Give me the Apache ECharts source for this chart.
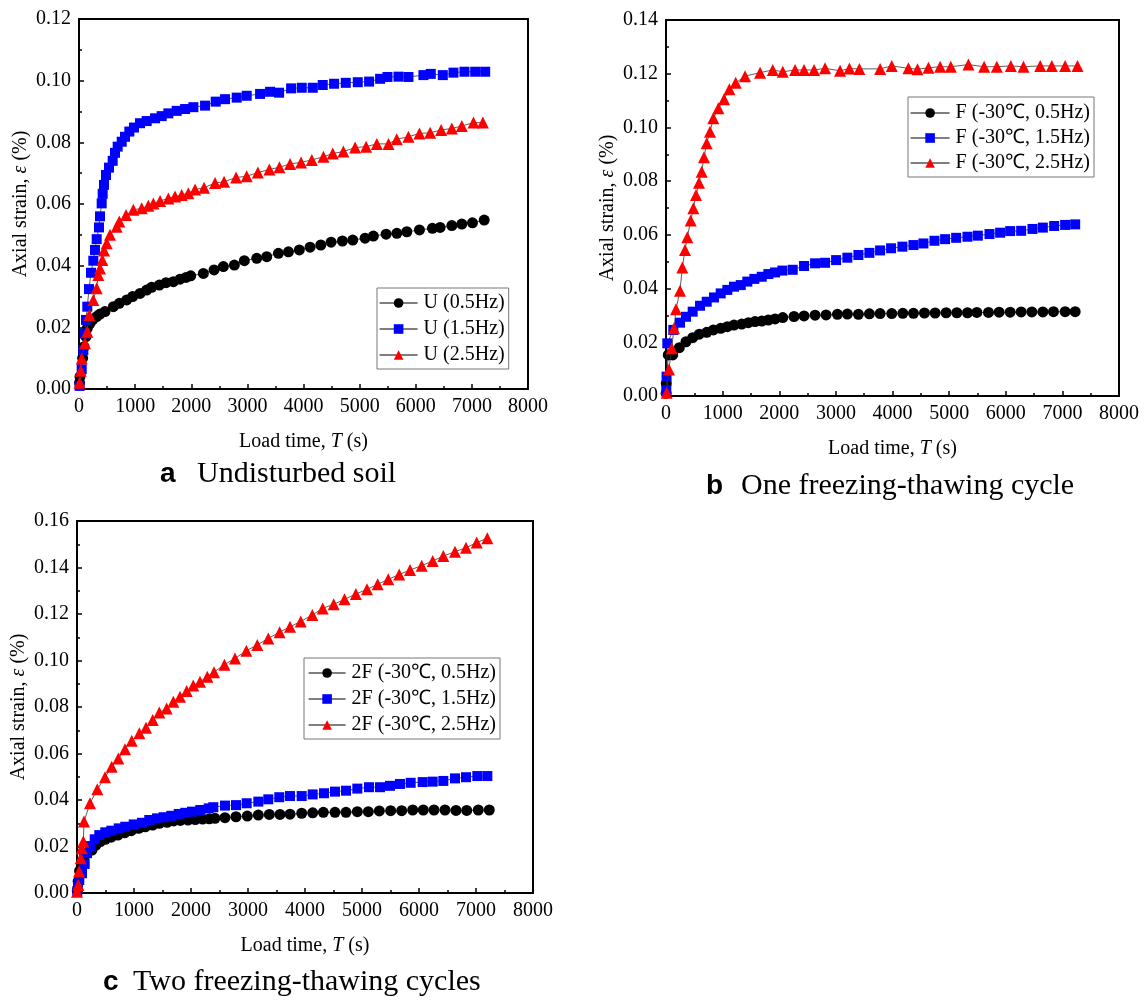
<!DOCTYPE html>
<html>
<head>
<meta charset="utf-8">
<script src="https://cdn.jsdelivr.net/npm/echarts@6/dist/echarts.min.js"></script>
<style>
  html, body { margin: 0; padding: 0; background: #fff; }
  #chart { width: 1147px; height: 1000px; }
</style>
</head>
<body>
<div id="chart"></div>
<script>
// Axial strain (%) versus load time (s), pairs of [time, strain]

// (a) Undisturbed soil
const uHz05 = [[10,0.002],[18,0.004],[65,0.010],[89,0.0137],[125,0.017],[148,0.0197],[196,0.0213],[243,0.0224],[315,0.0235],[374,0.0243],[463,0.0251],[612,0.0267],[718,0.0278],[850,0.0289],[956,0.030],[1087,0.031],[1206,0.0321],[1295,0.033],[1432,0.0337],[1551,0.0345],[1681,0.0348],[1800,0.0356],[1907,0.0362],[1990,0.0367],[2216,0.0375],[2406,0.0386],[2572,0.0397],[2768,0.0402],[2946,0.0416],[3167,0.0424],[3345,0.0429],[3553,0.044],[3732,0.0445],[3926,0.0451],[4117,0.046],[4308,0.0467],[4492,0.0476],[4693,0.048],[4878,0.0483],[5097,0.0489],[5245,0.0496],[5472,0.0502],[5663,0.0505],[5841,0.051],[6066,0.0516],[6297,0.0521],[6434,0.0524],[6643,0.053],[6821,0.0535],[7011,0.0539],[7220,0.0548]];
const uHz15 = [[10,0.001],[48,0.0064],[77,0.0126],[107,0.018],[125,0.0224],[148,0.0267],[178,0.0324],[214,0.0377],[255,0.0416],[285,0.0451],[315,0.0486],[356,0.0524],[374,0.056],[404,0.0602],[422,0.0633],[445,0.0662],[481,0.0694],[535,0.0718],[600,0.074],[641,0.0766],[689,0.0786],[761,0.0802],[820,0.0818],[897,0.0835],[980,0.0848],[1087,0.0862],[1206,0.0869],[1355,0.0878],[1473,0.0885],[1592,0.0894],[1740,0.0902],[1890,0.0908],[2038,0.0914],[2246,0.0919],[2436,0.0932],[2602,0.094],[2810,0.0945],[2988,0.0951],[3226,0.0957],[3404,0.0964],[3565,0.0961],[3779,0.0975],[3969,0.0977],[4165,0.0977],[4343,0.0986],[4545,0.099],[4753,0.0993],[4967,0.0995],[5169,0.0997],[5365,0.1006],[5496,0.1012],[5692,0.1013],[5870,0.1012],[6137,0.1018],[6268,0.1022],[6482,0.1018],[6672,0.1026],[6868,0.1029],[7059,0.1029],[7237,0.1029]];
const uHz25 = [[10,0.002],[30,0.0059],[48,0.0099],[107,0.0148],[148,0.0186],[184,0.024],[255,0.0289],[315,0.0327],[344,0.037],[374,0.0391],[415,0.0418],[445,0.0449],[493,0.0473],[552,0.050],[671,0.0526],[718,0.0543],[838,0.0564],[968,0.0581],[1117,0.0586],[1235,0.0594],[1325,0.0602],[1444,0.061],[1592,0.0618],[1711,0.0624],[1830,0.0629],[1948,0.0635],[2068,0.0647],[2228,0.0653],[2424,0.0668],[2585,0.0672],[2799,0.0686],[2988,0.069],[3187,0.0702],[3392,0.0712],[3571,0.0719],[3761,0.073],[3957,0.0735],[4148,0.0743],[4355,0.0753],[4521,0.0764],[4711,0.077],[4920,0.0783],[5116,0.0786],[5306,0.0795],[5514,0.0795],[5662,0.081],[5870,0.0818],[6066,0.0829],[6256,0.0831],[6452,0.084],[6643,0.0845],[6821,0.0853],[7029,0.0864],[7196,0.0864]];

// (b) One freezing-thawing cycle
const fHz05 = [[2,0.001],[5,0.0047],[40,0.0153],[118,0.0153],[235,0.018],[353,0.0202],[471,0.0217],[588,0.023],[719,0.0237],[836,0.0246],[966,0.0252],[1083,0.0258],[1201,0.0264],[1337,0.0268],[1455,0.0273],[1572,0.0277],[1691,0.0279],[1808,0.0283],[1926,0.0287],[2062,0.0292],[2261,0.0296],[2438,0.0298],[2633,0.0301],[2827,0.0302],[3027,0.0304],[3203,0.0305],[3398,0.0304],[3592,0.0306],[3781,0.0307],[3987,0.0307],[4182,0.0308],[4370,0.0308],[4564,0.0309],[4753,0.0309],[4947,0.031],[5136,0.031],[5324,0.031],[5490,0.0311],[5695,0.0311],[5883,0.0312],[6078,0.0312],[6272,0.0313],[6461,0.0313],[6655,0.0313],[6843,0.0314],[7049,0.0314],[7226,0.0314]];
const fHz15 = [[5,0.0022],[10,0.0072],[23,0.0196],[129,0.0246],[247,0.0273],[353,0.0295],[471,0.0314],[601,0.0336],[719,0.0351],[848,0.0367],[966,0.0382],[1083,0.0395],[1201,0.0407],[1320,0.0413],[1436,0.0426],[1560,0.0436],[1691,0.0444],[1808,0.0454],[1926,0.046],[2055,0.0467],[2238,0.047],[2438,0.0484],[2633,0.0494],[2809,0.0496],[3004,0.0506],[3203,0.0515],[3398,0.0525],[3592,0.0533],[3781,0.0542],[3975,0.055],[4175,0.0556],[4370,0.0562],[4546,0.0568],[4741,0.0578],[4929,0.0584],[5124,0.0589],[5324,0.0593],[5507,0.0597],[5713,0.0603],[5901,0.0608],[6078,0.0614],[6272,0.0615],[6472,0.0622],[6655,0.0627],[6855,0.0633],[7049,0.0637],[7226,0.0639]];
const fHz25 = [[12,0.0012],[53,0.0099],[100,0.0178],[141,0.0252],[177,0.0323],[247,0.0392],[288,0.0478],[336,0.0544],[376,0.0591],[436,0.0653],[483,0.0699],[530,0.0748],[583,0.0794],[630,0.0835],[671,0.0889],[719,0.0941],[777,0.0984],[836,0.1034],[925,0.1071],[1025,0.1105],[1119,0.1142],[1231,0.1166],[1396,0.1191],[1661,0.1204],[1885,0.1214],[2062,0.1207],[2279,0.1214],[2438,0.1214],[2615,0.1214],[2809,0.122],[3074,0.1211],[3239,0.1219],[3415,0.1218],[3781,0.1218],[3987,0.1229],[4282,0.122],[4441,0.1217],[4635,0.1222],[4841,0.1226],[5030,0.1226],[5341,0.1234],[5618,0.1226],[5842,0.1226],[6090,0.1229],[6314,0.1226],[6608,0.1229],[6814,0.1229],[7049,0.1229],[7267,0.1229]];

// (c) Two freezing-thawing cycles
const ffHz05 = [[5,0.001],[20,0.005],[45,0.0095],[80,0.013],[130,0.016],[190,0.0175],[263,0.0185],[333,0.0206],[409,0.0221],[496,0.0231],[602,0.024],[719,0.0249],[837,0.0259],[953,0.0268],[1082,0.0278],[1198,0.0285],[1328,0.0292],[1444,0.03],[1579,0.0304],[1696,0.031],[1813,0.0312],[1947,0.0314],[2075,0.0316],[2205,0.0318],[2321,0.0319],[2421,0.0321],[2596,0.0324],[2789,0.0328],[2988,0.0331],[3181,0.0335],[3374,0.0338],[3561,0.0338],[3737,0.0339],[3942,0.0343],[4135,0.0345],[4322,0.0347],[4526,0.0347],[4719,0.0347],[4918,0.035],[5111,0.035],[5304,0.0353],[5503,0.0354],[5696,0.0354],[5889,0.0357],[6075,0.0357],[6263,0.0357],[6456,0.0357],[6649,0.0355],[6837,0.0355],[7040,0.0357],[7233,0.0357]];
const ffHz15 = [[5,0.0008],[18,0.0027],[40,0.0056],[88,0.0085],[135,0.0125],[175,0.0171],[233,0.0202],[311,0.0231],[391,0.0249],[496,0.0261],[602,0.0268],[732,0.0278],[847,0.0285],[995,0.0295],[1140,0.0302],[1268,0.0314],[1404,0.0321],[1520,0.0326],[1654,0.0332],[1784,0.034],[1900,0.0345],[2018,0.035],[2163,0.0357],[2310,0.0364],[2392,0.0369],[2596,0.0376],[2789,0.0378],[2977,0.0386],[3181,0.0393],[3356,0.0403],[3549,0.0412],[3737,0.0417],[3942,0.0417],[4135,0.0424],[4333,0.0429],[4526,0.0436],[4719,0.044],[4918,0.0449],[5123,0.0455],[5316,0.0455],[5491,0.0461],[5666,0.0469],[5854,0.0474],[6064,0.0477],[6240,0.0479],[6427,0.0482],[6632,0.0493],[6825,0.0498],[7023,0.0503],[7199,0.0503]];
const ffHz25 = [[0,0.0005],[23,0.0034],[35,0.0092],[65,0.0149],[82,0.0192],[111,0.0221],[123,0.0307],[228,0.0386],[356,0.0446],[491,0.0498],[609,0.0543],[725,0.0579],[842,0.0618],[960,0.0655],[1093,0.0687],[1211,0.0711],[1328,0.0744],[1444,0.0776],[1573,0.0794],[1690,0.0823],[1807,0.0844],[1924,0.0869],[2040,0.0892],[2158,0.0909],[2286,0.093],[2404,0.095],[2587,0.0982],[2772,0.1009],[2971,0.1042],[3163,0.1067],[3356,0.1095],[3555,0.1122],[3737,0.1145],[3925,0.1168],[4128,0.1196],[4310,0.1224],[4503,0.1242],[4693,0.1263],[4892,0.1286],[5088,0.1306],[5275,0.1328],[5461,0.1349],[5652,0.137],[5842,0.1389],[6047,0.1408],[6240,0.1428],[6427,0.1449],[6632,0.1468],[6825,0.1485],[7012,0.1507],[7199,0.1526]];

// Legend entries per panel
const namesA = ['U (0.5Hz)', 'U (1.5Hz)', 'U (2.5Hz)'];
const namesB = ['F (-30℃, 0.5Hz)', 'F (-30℃, 1.5Hz)', 'F (-30℃, 2.5Hz)'];
const namesC = ['2F (-30℃, 0.5Hz)', '2F (-30℃, 1.5Hz)', '2F (-30℃, 2.5Hz)'];

// Axis ranges and captions
const xMax = 8000, xStep = 1000;
const yMaxes = [0.12, 0.14, 0.16];
const yStep = 0.02;
const captions = [
  ['a', 'Undisturbed soil'],
  ['b', 'One freezing-thawing cycle'],
  ['c', 'Two freezing-thawing cycles']
];

const SERIF = '"Liberation Serif", "Times New Roman", serif';
const SANS = '"Liberation Sans", Arial, sans-serif';

const grids = [
  { left: 79, top: 19, width: 449, height: 370 },
  { left: 666, top: 20, width: 453, height: 376 },
  { left: 77, top: 521, width: 456, height: 372 }
].map(g => Object.assign({
  show: true, borderColor: '#000', borderWidth: 2, backgroundColor: 'transparent',
  containLabel: false, outerBoundsMode: 'none'
}, g));

function xAxisOf(i) {
  return {
    type: 'value', gridIndex: i, min: 0, max: xMax, interval: xStep,
    name: 'Load time, {i|T} (s)', nameLocation: 'middle', nameGap: 43,
    nameTextStyle: { fontFamily: SERIF, fontSize: 20, color: '#000',
      rich: { i: { fontFamily: SERIF, fontStyle: 'italic', fontSize: 20, color: '#000' } } },
    axisLine: { show: true, lineStyle: { color: '#000', width: 2 } },
    axisTick: { show: true, inside: true, length: 5, lineStyle: { color: '#000', width: 1.5 } },
    minorTick: { show: true, splitNumber: 2, length: 3, lineStyle: { color: '#000', width: 1.5 } },
    splitLine: { show: false },
    axisLabel: { fontFamily: SERIF, fontSize: 20, color: '#000', margin: 8,
      formatter: v => String(v), showMaxLabel: true, showMinLabel: true }
  };
}
function yAxisOf(i) {
  return {
    type: 'value', gridIndex: i, min: 0, max: yMaxes[i], interval: yStep,
    name: 'Axial strain, {i|ε} (%)', nameLocation: 'middle', nameGap: 48, nameRotate: 90,
    nameTextStyle: { fontFamily: SERIF, fontSize: 20, color: '#000',
      rich: { i: { fontFamily: SERIF, fontStyle: 'italic', fontSize: 20, color: '#000' } } },
    axisLine: { show: true, lineStyle: { color: '#000', width: 2 } },
    axisTick: { show: true, inside: true, length: 5, lineStyle: { color: '#000', width: 1.5 } },
    minorTick: { show: true, splitNumber: 2, length: 3, lineStyle: { color: '#000', width: 1.5 } },
    splitLine: { show: false },
    axisLabel: { fontFamily: SERIF, fontSize: 20, color: '#000', margin: 8,
      formatter: v => v.toFixed(2), showMaxLabel: true, showMinLabel: true }
  };
}

const styles = [
  { symbol: 'circle', color: '#000000', size: 11 },
  { symbol: 'rect', color: '#0000ff', size: 10 },
  { symbol: 'triangle', color: '#ff0000', size: 12 }
];

function lineSeries(name, data, panel, k) {
  const s = styles[k];
  return {
    type: 'line', name: name, data: data,
    xAxisIndex: panel, yAxisIndex: panel,
    symbol: s.symbol, symbolSize: s.size, showSymbol: true,
    itemStyle: { color: s.color, borderWidth: 0 },
    lineStyle: { color: '#333', width: 0.8 },
    emphasis: { disabled: true },
    z: 2 + k
  };
}

const seriesData = [
  [uHz05, uHz15, uHz25],
  [fHz05, fHz15, fHz25],
  [ffHz05, ffHz15, ffHz25]
];
const allNames = [namesA, namesB, namesC];
const series = [];
seriesData.forEach((group, p) => group.forEach((d, k) => series.push(lineSeries(allNames[p][k], d, p, k))));

function legendOf(names, left, top, gap, pad, itemW) {
  return {
    data: names, orient: 'vertical', left: left, top: top,
    itemWidth: itemW, itemHeight: 12, itemGap: gap,
    padding: pad, borderColor: '#777', borderWidth: 1, borderRadius: 0,
    backgroundColor: '#fff', selectedMode: false,
    lineStyle: { color: '#000', width: 1.2 },
    textStyle: { fontFamily: SERIF, fontSize: 20, color: '#000', lineHeight: 20, padding: [0, 0, 0, 1] }
  };
}

const captionPos = [[160, 476], [706, 488], [103, 984]];
const graphic = captions.map((c, i) => ({
  type: 'text', left: captionPos[i][0], top: captionPos[i][1] - 17,
  style: {
    text: '{b|' + c[0] + '}{t|' + c[1] + '}',
    rich: {
      b: { fontFamily: SANS, fontWeight: 'bold', fontSize: 28, fill: '#000', width: 37 - (i === 2 ? 7 : 0) - (i === 1 ? 2 : 0) },
      t: { fontFamily: SERIF, fontSize: 30, fill: '#000' }
    }
  }
}));

const chart = echarts.init(document.getElementById('chart'), null, { renderer: 'canvas' });
chart.setOption({
  animation: false,
  backgroundColor: '#fff',
  grid: grids,
  xAxis: [0, 1, 2].map(xAxisOf),
  yAxis: [0, 1, 2].map(yAxisOf),
  legend: [
    legendOf(namesA, 377, 288, 6, [5, 4, 4, 2], 38),
    legendOf(namesB, 908, 97, 5, [6, 4, 4, 2], 39),
    legendOf(namesC, 304, 658, 6, [5, 4, 4, 4], 37)
  ],
  series: series,
  graphic: graphic
});
</script>
</body>
</html>
